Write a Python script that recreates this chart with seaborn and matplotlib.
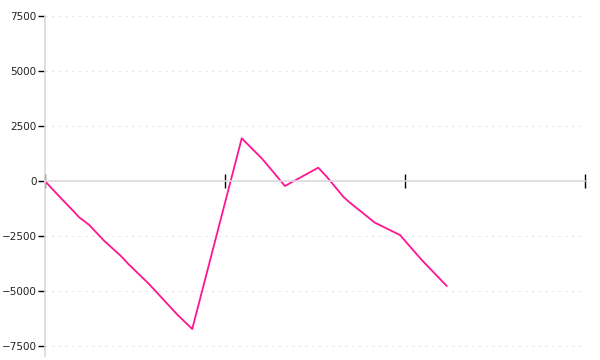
import matplotlib
matplotlib.use("Agg")
import matplotlib.pyplot as plt
import seaborn as sns
import pandas as pd

x_vals = [0.0, 0.037, 0.093, 0.152, 0.19, 0.246, 0.328, 0.42, 0.463, 0.574, 0.737, 0.818,
          1.093, 1.204, 1.259, 1.333, 1.518, 1.565, 1.657, 1.694, 1.833, 1.972, 2.093, 2.232]
y_vals = [0, -332, -818, -1318, -1650, -2000, -2713, -3395, -3773, -4650, -6090, -6727,
          1940, 1032, 500, -227, 605, 195, -714, -986, -1895, -2455, -3590, -4773]
y_ticks = [-7500, -5000, -2500, 0, 2500, 5000, 7500]
x_ticks = [0, 1, 2, 3]

df = pd.DataFrame({"x": x_vals, "y": y_vals})

sns.set_style("white")
fig = plt.figure(figsize=(6, 3.6), dpi=100)
ax = fig.add_axes([45/600, 4/360, 540/600, 340/360])

sns.lineplot(data=df, x="x", y="y", ax=ax, color="#ff1493", linewidth=1.3, sort=False)

ax.set_xlim(0, 3)
ax.set_ylim(-7500 - 10 * 7500 / 165, 7500)
ax.set_yticks(y_ticks)
ax.set_yticklabels([str(v).replace("-", "\u2212") for v in y_ticks])
ax.set_xticks(x_ticks)
ax.set_xticklabels([])
ax.set_xlabel("")
ax.set_ylabel("")

for v in y_ticks:
    if v != 0:
        ax.axhline(v, color="#e6e6e6", linewidth=0.8, linestyle=(0, (2, 4)), zorder=0)

for s in ["top", "right"]:
    ax.spines[s].set_visible(False)
ax.spines["left"].set_color("#d9d9d9")
ax.spines["left"].set_linewidth(1.2)
ax.spines["bottom"].set_position(("data", 0))
ax.spines["bottom"].set_color("#d9d9d9")
ax.spines["bottom"].set_linewidth(1.2)

ax.tick_params(axis="y", direction="out", length=5, width=1, color="black",
               labelsize=7.5, pad=1, labelcolor="#222222", left=True)
ax.tick_params(axis="x", direction="inout", length=10, width=1, color="black", bottom=True)

fig.savefig("out.png", dpi=100)
